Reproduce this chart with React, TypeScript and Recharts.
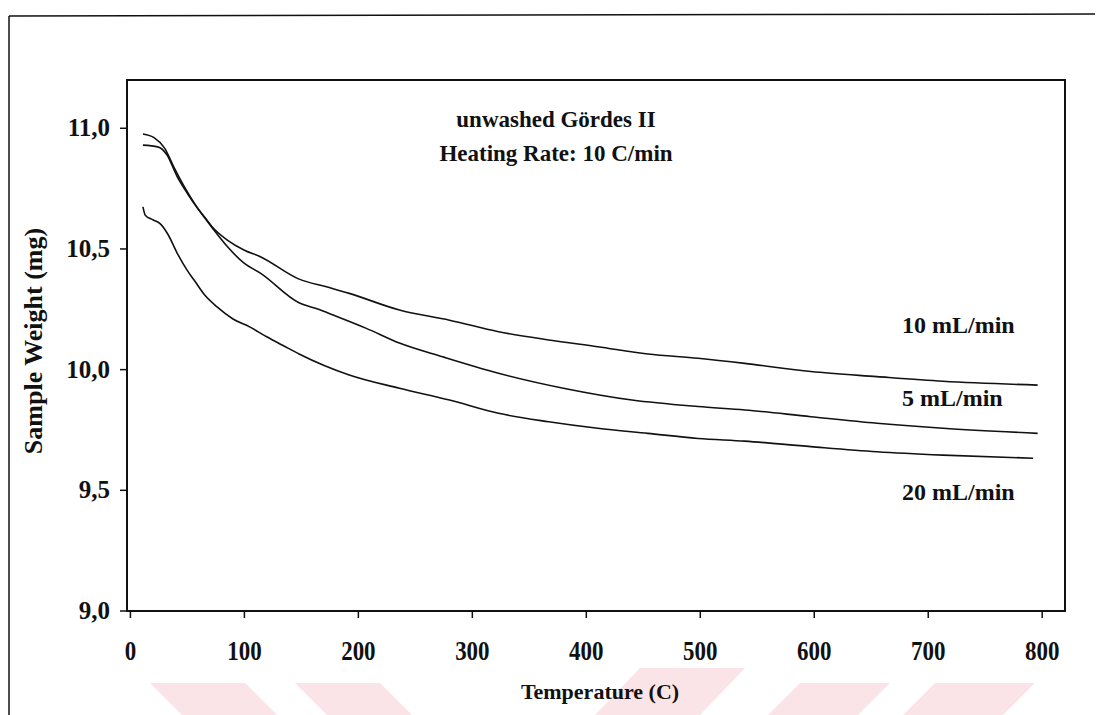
import React from "react";
import {
  LineChart,
  Line,
  XAxis,
  YAxis,
  ReferenceArea,
} from "recharts";

// TGA curves, unwashed Gördes II, 10 C/min
const temp10 = [11, 24, 32, 41, 50, 58, 67, 72, 85, 100, 114, 148, 172, 192, 236, 280, 323, 367, 410, 454, 498, 539, 597, 655, 713, 796];
const weight10 = [10.93, 10.923, 10.89, 10.8, 10.73, 10.675, 10.62, 10.59, 10.537, 10.495, 10.468, 10.375, 10.343, 10.316, 10.247, 10.205, 10.157, 10.123, 10.095, 10.065, 10.047, 10.026, 9.992, 9.971, 9.952, 9.936];

const temp5 = [11, 21, 30, 38, 47, 56, 65, 73, 85, 100, 114, 148, 165, 178, 207, 236, 274, 323, 381, 440, 498, 539, 597, 655, 713, 796];
const weight5 = [10.976, 10.96, 10.918, 10.84, 10.76, 10.69, 10.63, 10.58, 10.51, 10.44, 10.4, 10.277, 10.25, 10.226, 10.171, 10.11, 10.053, 9.985, 9.922, 9.874, 9.847, 9.833, 9.805, 9.778, 9.757, 9.736];

const temp20 = [11, 13, 20, 26, 33, 41, 50, 56, 65, 76, 90, 105, 120, 134, 148, 192, 236, 280, 323, 367, 410, 454, 498, 539, 597, 655, 713, 792];
const weight20 = [10.674, 10.64, 10.62, 10.605, 10.56, 10.483, 10.41, 10.37, 10.31, 10.26, 10.21, 10.176, 10.135, 10.1, 10.065, 9.978, 9.923, 9.874, 9.819, 9.784, 9.757, 9.736, 9.715, 9.704, 9.681, 9.66, 9.646, 9.633];

const xTicks = [0, 100, 200, 300, 400, 500, 600, 700, 800];
const yTicks = [9, 9.5, 10, 10.5, 11];

const titleLines = ["unwashed Gördes II", "Heating Rate: 10 C/min"];
const seriesNames = ["10 mL/min", "5 mL/min", "20 mL/min"];

const FONT = '"Liberation Serif", "Times New Roman", serif';
const INK = "#111";

const toRows = (t: number[], w: number[]) => t.map((v, i) => ({ t: v, w: w[i] }));

const XTick = ({ x, y, payload }: any) => (
  <g transform={`translate(${x},${y})`}>
    <text
      x={0}
      y={0}
      dy={40}
      textAnchor="middle"
      transform="scale(0.82,1)"
      fontFamily={FONT}
      fontWeight="bold"
      fontSize={28}
      fill={INK}
    >
      {payload.value}
    </text>
  </g>
);

const YTick = ({ x, y, payload }: any) => (
  <text
    x={x - 8}
    y={y}
    dy={8}
    textAnchor="end"
    fontFamily={FONT}
    fontWeight="bold"
    fontSize={25}
    fill={INK}
  >
    {Number(payload.value).toFixed(1).replace(".", ",")}
  </text>
);

export default function App() {
  const d10 = toRows(temp10, weight10);
  const d5 = toRows(temp5, weight5);
  const d20 = toRows(temp20, weight20);

  return (
    <div style={{ position: "absolute", left: 0, top: 0, width: 1101, height: 715, background: "#fff" }}>
      {/* thesis watermark stripes */}
      <svg width={1101} height={715} style={{ position: "absolute", left: 0, top: 0 }}>
        <g fill="#fbe4e7">
          <polygon points="150,683 245,683 277,715 182,715" />
          <polygon points="295,683 380,683 412,715 327,715" />
          <polygon points="640,668 745,668 700,715 595,715" />
          <polygon points="800,683 890,683 858,715 768,715" />
          <polygon points="935,683 1035,683 1003,715 903,715" />
        </g>
      </svg>

      <div style={{ position: "absolute", left: 0, top: 0 }}>
        <LineChart
          width={1101}
          height={715}
          margin={{ top: 80, right: 36, bottom: 0, left: 0 }}
        >
          <XAxis
            dataKey="t"
            type="number"
            domain={[-3, 820]}
            ticks={xTicks}
            allowDataOverflow
            height={104}
            tickSize={7}
            axisLine={{ stroke: INK, strokeWidth: 2 }}
            tickLine={{ stroke: INK, strokeWidth: 1.5 }}
            tick={<XTick />}
          />
          <YAxis
            type="number"
            domain={[9, 11.2]}
            ticks={yTicks}
            allowDataOverflow
            width={127}
            tickSize={7}
            axisLine={{ stroke: INK, strokeWidth: 2 }}
            tickLine={{ stroke: INK, strokeWidth: 1.5 }}
            tick={<YTick />}
          />
          <ReferenceArea
            x1={-3}
            x2={820}
            y1={9}
            y2={11.2}
            fill="none"
            stroke={INK}
            strokeWidth={2}
            ifOverflow="visible"
          />
          <Line data={d10} dataKey="w" type="monotone" stroke={INK} strokeWidth={1.6} dot={false} isAnimationActive={false} />
          <Line data={d5} dataKey="w" type="monotone" stroke={INK} strokeWidth={1.6} dot={false} isAnimationActive={false} />
          <Line data={d20} dataKey="w" type="monotone" stroke={INK} strokeWidth={1.6} dot={false} isAnimationActive={false} />
        </LineChart>
      </div>

      {/* frame and annotation text */}
      <svg width={1101} height={715} style={{ position: "absolute", left: 0, top: 0, pointerEvents: "none" }}>
        <line x1={9} y1={16} x2={1095} y2={14} stroke={INK} strokeWidth={1.5} />
        <line x1={9} y1={16} x2={9} y2={715} stroke={INK} strokeWidth={1.5} />

        <g fontFamily={FONT} fontWeight="bold" fill={INK} fontSize={23} textAnchor="middle">
          <text x={556} y={127}>{titleLines[0]}</text>
          <text x={556} y={161}>{titleLines[1]}</text>
        </g>

        <g fontFamily={FONT} fontWeight="bold" fill={INK} fontSize={24}>
          <text x={902} y={333}>{seriesNames[0]}</text>
          <text x={902} y={406}>{seriesNames[1]}</text>
          <text x={902} y={500}>{seriesNames[2]}</text>
        </g>

        <text
          x={42}
          y={341}
          transform="rotate(-90 42 341)"
          textAnchor="middle"
          fontFamily={FONT}
          fontWeight="bold"
          fontSize={26}
          fill={INK}
        >
          Sample Weight (mg)
        </text>
        <text x={600} y={699} textAnchor="middle" fontFamily={FONT} fontWeight="bold" fontSize={22} fill={INK}>
          Temperature (C)
        </text>
      </svg>
    </div>
  );
}
